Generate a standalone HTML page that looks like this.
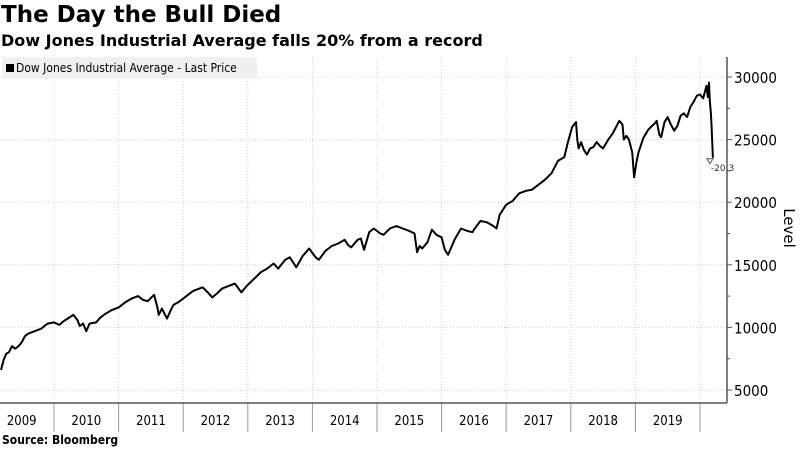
<!DOCTYPE html>
<html><head><meta charset="utf-8"><style>
body{margin:0;background:#fff;font-family:"DejaVu Sans","Liberation Sans",sans-serif;}
#wrap{position:relative;width:800px;height:450px;overflow:hidden;}
</style></head><body>
<div id="wrap">
<div style="position:absolute;left:1px;top:2px;font-size:23px;font-weight:bold;color:#000;">The Day the Bull Died</div>
<div style="position:absolute;left:1px;top:31px;font-size:16px;font-weight:bold;color:#000;">Dow Jones Industrial Average falls 20% from a record</div>
<svg id="svg" width="800" height="450" style="position:absolute;left:0;top:0"></svg>
<div style="position:absolute;left:2px;top:57px;width:255px;height:22px;background:#f0f0f0;font-size:12px;line-height:22px;color:#000;font-family:'DejaVu Sans Condensed','Liberation Sans Narrow','Liberation Sans',sans-serif;"><span style="display:inline-block;width:8px;height:8px;background:#000;margin:0 2px 0 4px;"></span>Dow Jones Industrial Average - Last Price</div>
<div style="position:absolute;left:2px;top:433px;font-size:12px;font-weight:bold;font-family:'DejaVu Sans Condensed','Liberation Sans',sans-serif;">Source: Bloomberg</div>
</div>
<script>
const dates=[2009.18,2009.22,2009.26,2009.3,2009.35,2009.4,2009.45,2009.5,2009.55,2009.6,2009.7,2009.8,2009.9,2010.0,2010.08,2010.15,2010.3,2010.36,2010.4,2010.45,2010.5,2010.55,2010.65,2010.72,2010.8,2010.9,2011.0,2011.1,2011.2,2011.3,2011.38,2011.45,2011.55,2011.6,2011.62,2011.67,2011.75,2011.8,2011.85,2011.92,2012.0,2012.15,2012.3,2012.38,2012.45,2012.52,2012.6,2012.7,2012.8,2012.9,2013.0,2013.1,2013.2,2013.3,2013.4,2013.47,2013.5,2013.58,2013.65,2013.75,2013.85,2013.95,2014.05,2014.1,2014.2,2014.3,2014.4,2014.5,2014.55,2014.6,2014.7,2014.75,2014.8,2014.88,2014.95,2015.05,2015.1,2015.2,2015.3,2015.4,2015.5,2015.58,2015.62,2015.66,2015.7,2015.78,2015.85,2015.92,2016.0,2016.05,2016.1,2016.2,2016.3,2016.4,2016.48,2016.5,2016.6,2016.7,2016.8,2016.85,2016.9,2017.0,2017.1,2017.2,2017.3,2017.4,2017.5,2017.6,2017.7,2017.8,2017.9,2017.95,2018.02,2018.08,2018.1,2018.12,2018.16,2018.2,2018.25,2018.3,2018.35,2018.4,2018.45,2018.5,2018.58,2018.65,2018.75,2018.8,2018.82,2018.86,2018.9,2018.95,2018.98,2019.02,2019.05,2019.12,2019.2,2019.3,2019.33,2019.37,2019.4,2019.45,2019.5,2019.55,2019.6,2019.65,2019.7,2019.75,2019.8,2019.85,2019.9,2019.95,2020.0,2020.05,2020.1,2020.12,2020.14,2020.15,2020.17,2020.18,2020.2];
const values=[6600,7400,7900,8000,8500,8300,8500,8800,9300,9500,9700,9900,10300,10400,10200,10500,11000,10600,10100,10300,9700,10300,10400,10800,11100,11400,11600,12000,12300,12500,12200,12100,12600,11600,11000,11500,10700,11300,11800,12000,12300,12900,13200,12800,12400,12700,13100,13300,13500,12800,13400,13900,14400,14700,15100,14700,14900,15400,15600,14800,15700,16300,15600,15400,16100,16500,16700,17000,16600,16400,17000,17100,16200,17600,17900,17500,17400,17900,18100,17900,17700,17500,16000,16500,16300,16800,17800,17400,17200,16200,15800,17000,17900,17700,17600,17800,18500,18400,18100,17900,19000,19800,20100,20700,20900,21000,21400,21800,22300,23300,23600,24700,26000,26400,25000,24300,24800,24200,23800,24300,24400,24800,24500,24300,25000,25500,26500,26200,25000,25300,25000,24000,22000,23300,24000,25100,25800,26300,26500,25400,25200,26400,26800,26200,25700,26100,26900,27100,26800,27600,28000,28500,28600,28300,29300,28400,29550,28200,27000,26000,23550];
const yTicks=[5000,10000,15000,20000,25000,30000];
const years=[2009,2010,2011,2012,2013,2014,2015,2016,2017,2018,2019];
const annotation="-20.3";
const X0=54,PX=64.6,AX=727,AB=403;
function xs(t){return X0+(t-2010)*PX;}
function ys(v){return 390-(v-5000)*0.01252;}
const svg=document.getElementById('svg'),NS='http://www.w3.org/2000/svg';
function el(tag,attrs,parent){const e=document.createElementNS(NS,tag);for(const k in attrs)e.setAttribute(k,attrs[k]);(parent||svg).appendChild(e);return e;}
yTicks.forEach(v=>{const l=el('line',{x1:0,x2:AX,y1:ys(v),y2:ys(v),stroke:'#ccc','stroke-dasharray':'1,2'});

});
years.concat([2020]).forEach(y=>{if(y===2009)return;const x=xs(y);
const g=el('line',{x1:x,x2:x,y1:57,y2:AB,stroke:'#ccc','stroke-dasharray':'1,2'});


const s=el('line',{x1:x,x2:x,y1:AB,y2:432,stroke:'#999'});

});
years.forEach(y=>{const t=el('text',{x:xs(y+0.5),y:425,'text-anchor':'middle','font-size':'13','font-family':'DejaVu Sans Condensed,Liberation Sans,sans-serif',fill:'#000'});t.textContent=y;

});
const ax=el('line',{x1:AX,x2:AX,y1:57,y2:AB,stroke:'#555','stroke-width':1.5});


const bx=el('line',{x1:0,x2:AX,y1:AB,y2:AB,stroke:'#555','stroke-width':1.5});


yTicks.forEach((v,i)=>{el('line',{x1:AX,x2:AX+5,y1:ys(v),y2:ys(v),stroke:'#555'});if(i<yTicks.length-1)el('line',{x1:AX,x2:AX+3,y1:ys(v+2500),y2:ys(v+2500),stroke:'#555'});
const t=el('text',{x:AX+7,y:ys(v)+6,'font-size':'15','font-family':'DejaVu Sans Condensed,Liberation Sans,sans-serif',fill:'#000'});t.textContent=v;

});
const yl=el('text',{x:784,y:228,'font-size':'15','text-anchor':'middle',transform:'rotate(90 784 228)','font-family':'DejaVu Sans,Liberation Sans,sans-serif'});yl.textContent='Level';


const d=dates.map((t,i)=>(i?'L':'M')+xs(t).toFixed(1)+','+ys(values[i]).toFixed(1)).join('');
const p=el('path',{d:d,fill:'none',stroke:'#000','stroke-width':2,'stroke-linejoin':'round'});


const last=dates.length-1;
const tri=el('path',{d:`M${xs(dates[last])-6},${ys(values[last])+1}l6,0l-3,5z`,fill:'none',stroke:'#555'});


const an=el('text',{x:xs(dates[last])-2,y:ys(values[last])+13,'font-size':'9',fill:'#333'});an.textContent=annotation;


</script>
</body></html>
